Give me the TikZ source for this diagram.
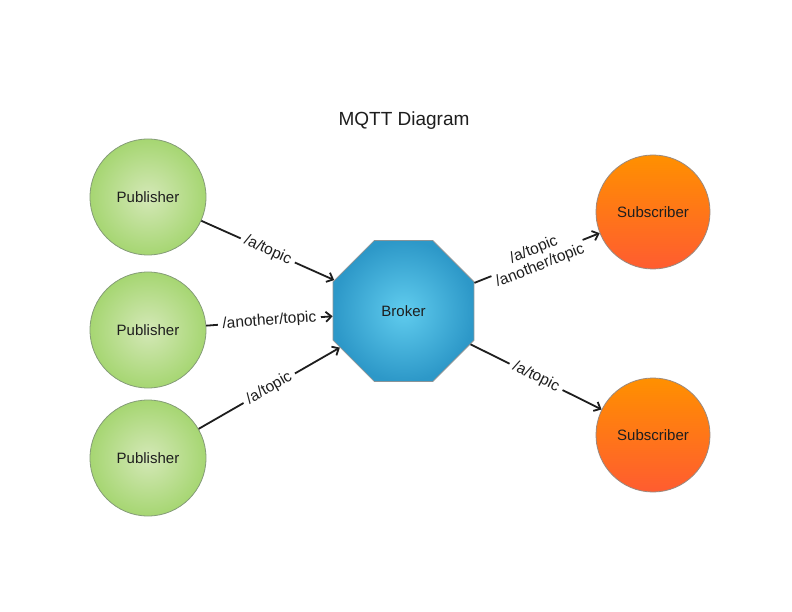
\documentclass[tikz,border=0pt]{standalone}
\usepackage{fontspec}
\setmainfont{Liberation Sans}
\usetikzlibrary{shapes.geometric,arrows.meta}
\definecolor{pubin}{HTML}{D4E8B7}
\definecolor{pubout}{HTML}{A6D672}
\definecolor{publine}{HTML}{859C78}
\definecolor{subtop}{HTML}{FF9000}
\definecolor{subbot}{HTML}{FF5C30}
\definecolor{subline}{HTML}{9A8A80}
\definecolor{brkin}{HTML}{60CCEE}
\definecolor{brkout}{HTML}{2D98C8}
\definecolor{brkline}{HTML}{8A9498}
\definecolor{txt}{HTML}{1E1E1E}
\tikzset{
  pubnode/.style={circle, minimum size=116pt, inner sep=0pt, draw=publine, line width=0.8pt,
    inner color=pubin, outer color=pubout, font=\fontsize{15}{18}\selectfont, text=txt},
  subnode/.style={circle, minimum size=114pt, inner sep=0pt, draw=subline, line width=0.8pt,
    top color=subtop, bottom color=subbot, font=\fontsize{15}{18}\selectfont, text=txt},
  brknode/.style={regular polygon, regular polygon sides=8, minimum size=152.6pt, inner sep=0pt,
    draw=brkline, line width=0.8pt, inner color=brkin, outer color=brkout,
    font=\fontsize{15}{18}\selectfont, text=txt},
  link/.style={line width=1.8pt, -{Straight Barb[length=5.5pt,width=10pt]}, txt},
  lbl/.style={fill=white, sloped, midway, inner xsep=4.5pt, inner ysep=2pt, font=\fontsize{15.5}{17}\selectfont, text=txt, align=center}
}
\begin{document}
\begin{tikzpicture}[x=1pt, y=-1pt]
\useasboundingbox (0,0) rectangle (792,612);
\fill[white] (0,0) rectangle (792,612);
\node[font=\fontsize{19}{22}\selectfont, text=txt] (title) at (404,121) {MQTT Diagram};
\node[pubnode] (p1) at (148,197) {Publisher};
\node[pubnode] (p2) at (148,330) {Publisher};
\node[pubnode] (p3) at (148,458) {Publisher};
\node[brknode] (b) at (403.5,311) {Broker};
\node[subnode] (s1) at (653,212) {Subscriber};
\node[subnode] (s2) at (653,435) {Subscriber};
\draw[link] (p1) -- node[lbl] {/a/topic} (b);
\draw[link] (p2) -- node[lbl] {/another/topic} (b);
\draw[link] (p3) -- node[lbl] {/a/topic} (b);
\draw[link] (b) -- node[lbl, inner xsep=2pt, inner ysep=1pt] {/a/topic\\/another/topic} (s1);
\draw[link] (b) -- node[lbl] {/a/topic} (s2);
\end{tikzpicture}
\end{document}
